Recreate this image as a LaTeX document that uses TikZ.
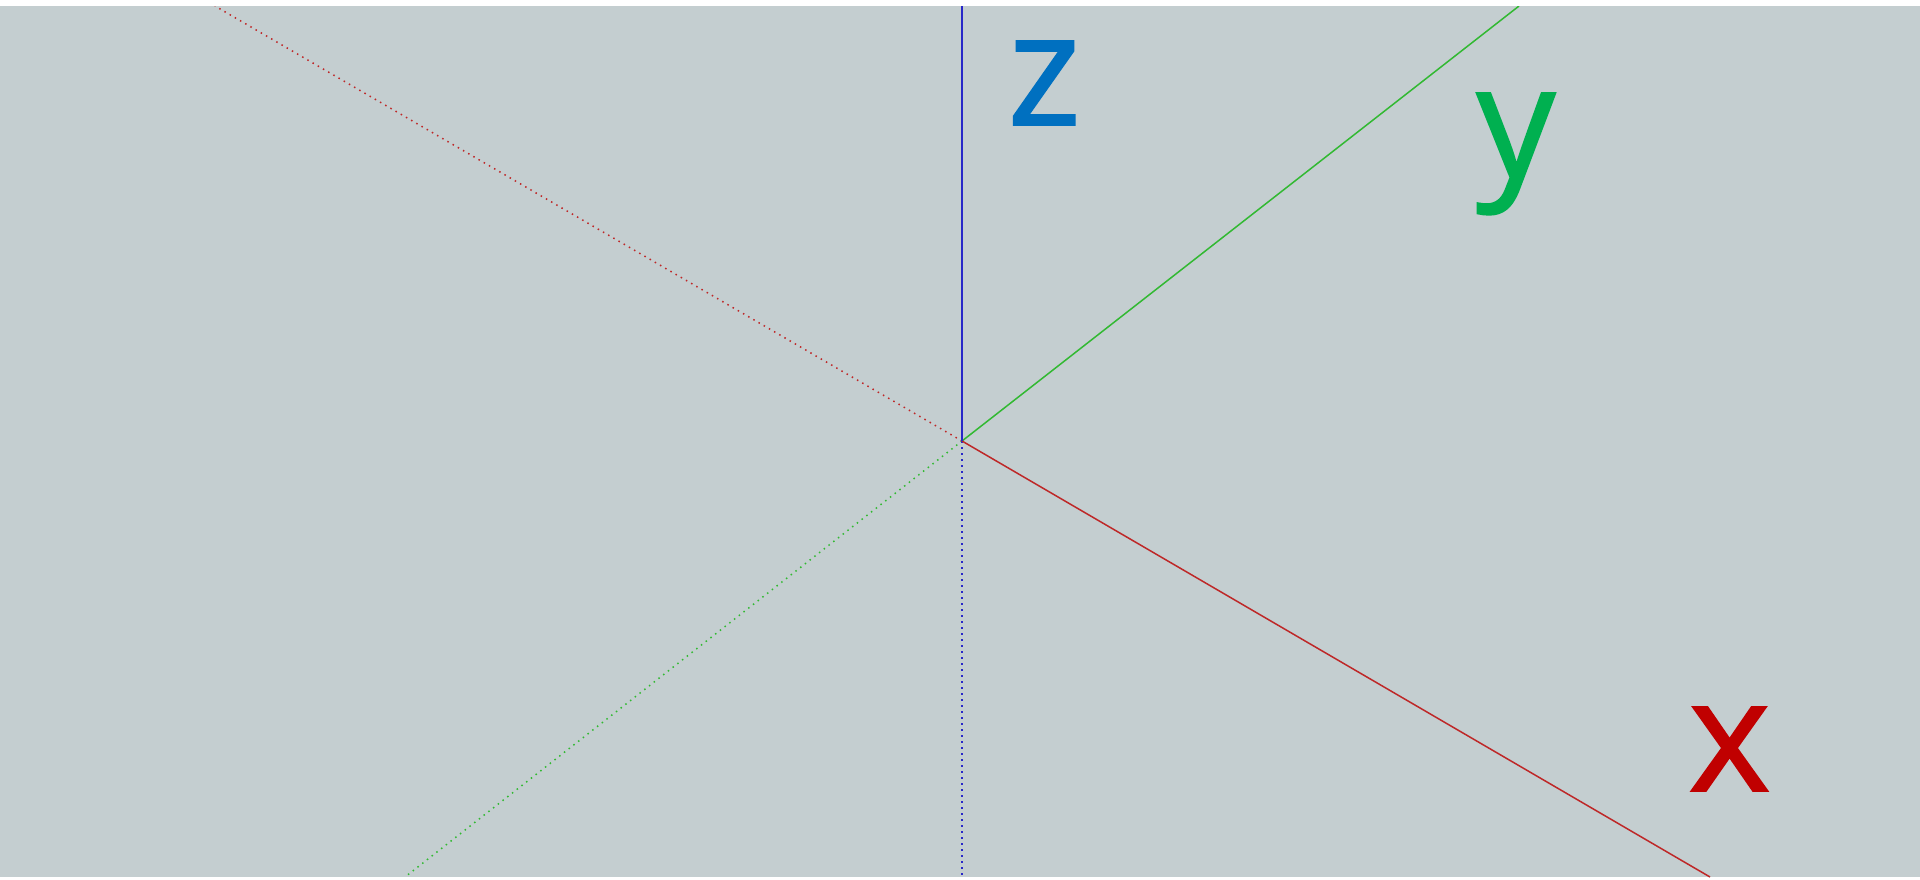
\documentclass[tikz,border=0pt]{standalone}
\usepackage{fontspec}
\setmainfont{Open Sans}
\newfontfamily\lblfont[FakeBold=1.2]{Open Sans}
\definecolor{bg}{RGB}{196,206,208}
\definecolor{xred}{RGB}{192,0,0}
\definecolor{ygreen}{RGB}{0,176,80}
\definecolor{zblue}{RGB}{0,112,192}
\definecolor{xline}{RGB}{190,40,40}
\definecolor{yline}{RGB}{50,185,50}
\definecolor{zline}{RGB}{40,40,200}
\tikzset{
  solidaxis/.style={line width=0.75pt},
  dotaxis/.style={line width=0.75pt, dash pattern=on 0.75pt off 2.25pt},
  axlabel/.style={inner sep=0pt, anchor=base west, font=\lblfont\fontsize{78.5}{80}\selectfont}
}
\begin{document}
\begin{tikzpicture}[x=0.5pt,y=-0.5pt]
\useasboundingbox (0,0) rectangle (1920,879);
\fill[white] (0,0) rectangle (1920,879);
\fill[bg] (0,6) rectangle (1920,877);
\coordinate (O) at (962,441);
\coordinate (zt) at (962,6);
\coordinate (zb) at (962,877);
\coordinate (yt) at (1519,6);
\coordinate (yb) at (405,877);
\coordinate (xb) at (1710,877);
\coordinate (xt) at (215,6);
\begin{scope}
\clip (0,6) rectangle (1920,877);
\draw[dotaxis, xline] (O) -- (xt);
\draw[dotaxis, yline] (O) -- (yb);
\draw[dotaxis, zline] (O) -- (zb);
\draw[solidaxis, yline] (O) -- (yt);
\draw[solidaxis, xline] (O) -- (xb);
\draw[solidaxis, zline] (O) -- (zt);
\end{scope}
\node[axlabel, text=zblue] (zl) at (1007,125) {z};
\node[axlabel, text=ygreen] (yl) at (1476,177) {y};
\node[axlabel, text=xred] (xl) at (1688,791) {x};
\end{tikzpicture}
\end{document}
